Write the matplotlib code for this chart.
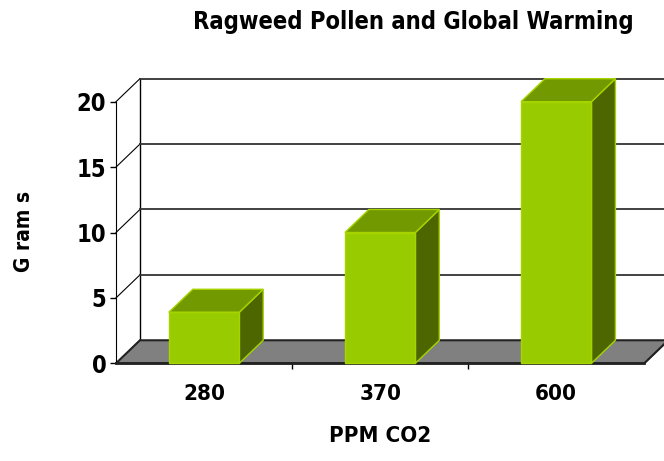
"""
Ragweed pollen vs. CO2 - Excel style pseudo-3D column chart.
"""
import matplotlib
matplotlib.use("Agg")
import matplotlib.pyplot as plt
from matplotlib import font_manager as fm
from matplotlib.patches import Polygon

# ── data ──
CATEGORIES = ["280", "370", "600"]
GRAMS = [3.9, 10, 20]
Y_TICKS = [0, 5, 10, 15, 20]

TITLE = "Ragweed Pollen and Global Warming"
X_LABEL = "PPM CO2"
Y_LABEL = "G ram s"

# ── style ──
FRONT = "#99cc00"
TOP = "#739900"
SIDE = "#4d6600"
EDGE = "#a6d400"
FLOOR = "#808080"
DX, DY = 0.136, 1.76     # depth offset (category units, value units)
BAR_W = 0.40


def pick_font():
    """bold narrow sans if there is one, else plain bold sans"""
    best, best_score = None, -1
    for f in fm.fontManager.ttflist:
        key = (f.name + " " + f.fname).lower()
        if "mono" in key or "serif" in key and "sans" not in key:
            continue
        score = 0
        if "narrow" in key or "condensed" in key or str(f.stretch) in ("condensed", "semi-condensed"):
            score += 10
        if "bold" in key or f.weight in ("bold", 700):
            score += 5
        if "oblique" in key or "italic" in key or "extra" in key or "semi" in key or "light" in key:
            score -= 8
        if "liberation" in key:
            score += 2
        if score > best_score:
            best, best_score = f.fname, score
    return best


FONT_PATH = pick_font()


def fp(size):
    return fm.FontProperties(fname=FONT_PATH, size=size)


fig = plt.figure(figsize=(6.64, 4.61), dpi=100)
ax = fig.add_axes([116 / 664, 1 - 363.3 / 461, 528.3 / 664, 261.6 / 461])
n = len(CATEGORIES)
ax.set_xlim(-0.5, n - 0.5)
ax.set_ylim(0, max(Y_TICKS))
ax.patch.set_visible(False)
for s in ("top", "right"):
    ax.spines[s].set_visible(False)
ax.spines["left"].set_color("black")
ax.spines["bottom"].set_color("#222222")
ax.spines["bottom"].set_linewidth(2)

x0, x1 = -0.5, n - 0.5

# floor
ax.add_patch(Polygon([(x0, 0), (x1, 0), (x1 + DX, DY), (x0 + DX, DY)],
                     closed=True, facecolor=FLOOR, edgecolor="#222222",
                     lw=1.5, clip_on=False, zorder=1))

# back wall: vertical edge + gridlines, side-wall diagonals
ax.plot([x0 + DX, x0 + DX], [DY, max(Y_TICKS) + DY], color="black",
        lw=1, clip_on=False, zorder=0)
for v in Y_TICKS:
    ax.plot([x0, x0 + DX], [v, v + DY], color="black", lw=0.8,
            clip_on=False, zorder=0)
    if v > 0:
        ax.plot([x0 + DX, x1 + DX + 0.2], [v + DY, v + DY],
                color="#333333", lw=1.3, clip_on=False, zorder=0)
ax.plot([x1, x1 + DX + 0.1], [0, DY + DY * 0.1 / DX], color="#222222",
        lw=1, clip_on=False, zorder=1)

# bars
for i, v in enumerate(GRAMS):
    l, r = i - BAR_W / 2, i + BAR_W / 2
    front = Polygon([(l, 0), (r, 0), (r, v), (l, v)], closed=True,
                    facecolor=FRONT, edgecolor=EDGE, lw=1, zorder=3,
                    clip_on=False)
    top = Polygon([(l, v), (r, v), (r + DX, v + DY), (l + DX, v + DY)],
                  closed=True, facecolor=TOP, edgecolor=EDGE, lw=1,
                  zorder=3, clip_on=False)
    side = Polygon([(r, 0), (r + DX, DY), (r + DX, v + DY), (r, v)],
                   closed=True, facecolor=SIDE, edgecolor=EDGE, lw=1,
                   zorder=3, clip_on=False)
    for p in (side, top, front):
        ax.add_patch(p)

# ticks
ax.set_yticks(Y_TICKS)
ax.set_yticklabels([str(t) for t in Y_TICKS])
for lbl in ax.get_yticklabels():
    lbl.set_fontproperties(fp(17))
ax.tick_params(axis="y", length=4, width=1, pad=3)
ax.set_xticks(range(n))
ax.set_xticklabels(CATEGORIES)
for lbl in ax.get_xticklabels():
    lbl.set_fontproperties(fp(16))
ax.tick_params(axis="x", which="major", length=0, pad=15)
ax.set_xticks([i + 0.5 for i in range(n - 1)], minor=True)
ax.tick_params(axis="x", which="minor", length=4, width=1)

fig.text(413 / 664, 1 - 22 / 461, TITLE, ha="center", va="center",
         fontproperties=fp(17))
fig.text(380 / 664, 1 - 436 / 461, X_LABEL, ha="center", va="center",
         fontproperties=fp(16))
fig.text(24 / 664, 1 - 231 / 461, Y_LABEL, ha="center", va="center",
         rotation=90, fontproperties=fp(15))

fig.savefig("out.png", dpi=100)
